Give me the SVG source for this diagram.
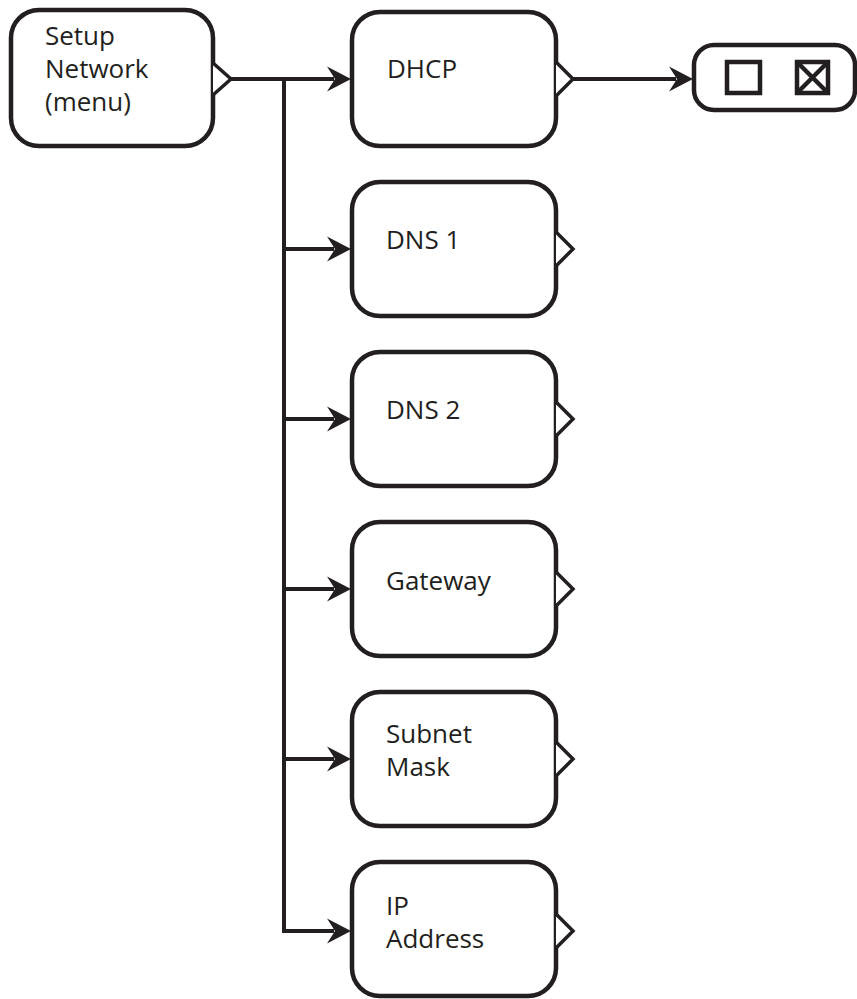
<svg xmlns="http://www.w3.org/2000/svg" width="857" height="999" viewBox="0 0 857 999">
<defs>
<style>
.box{fill:#fff;stroke:#231f20;stroke-width:4.5;}
.tri{fill:#fff;stroke:#231f20;stroke-width:3.5;stroke-linejoin:miter;}
.ln{fill:none;stroke:#231f20;stroke-width:4;}
.lbl{font-family:"Open Sans","Noto Sans",sans-serif;font-size:26px;fill:#231f20;}
.ah{fill:#231f20;}
.chk{fill:none;stroke:#231f20;stroke-width:4.5;}
</style>
<path id="arrow" class="ah" d="M0,0 L-24,-12.5 L-16,0 L-24,12.5 Z"/>
</defs>
<rect width="857" height="999" fill="#fff"/>
<g id="connectors">
<path class="ln" d="M231,79 H334"/>
<path class="ln" d="M284,79 V931 H334"/>
<path class="ln" d="M284,249 H334"/>
<path class="ln" d="M284,419 H334"/>
<path class="ln" d="M284,589 H334"/>
<path class="ln" d="M284,759 H334"/>
<path class="ln" d="M573,79 H676"/>
<use href="#arrow" x="351" y="79"/>
<use href="#arrow" x="351" y="249"/>
<use href="#arrow" x="351" y="419"/>
<use href="#arrow" x="351" y="589"/>
<use href="#arrow" x="351" y="759"/>
<use href="#arrow" x="351" y="931"/>
<use href="#arrow" x="693" y="79"/>
</g>
<g id="setup">
<rect class="box" x="11" y="10" width="202" height="136" rx="28"/>
<path class="tri" d="M213,63 L231,79 L213,95"/>
<text class="lbl" x="45" y="45">Setup</text>
<text class="lbl" x="45" y="78">Network</text>
<text class="lbl" x="45" y="111">(menu)</text>
</g>
<g id="dhcp">
<rect class="box" x="352" y="12" width="204" height="134" rx="28"/>
<path class="tri" d="M556,62 L573,79 L556,96"/>
<text class="lbl" x="387" y="78">DHCP</text>
</g>
<g id="toggle">
<rect class="box" x="694" y="45" width="161" height="65" rx="20"/>
<rect class="chk" x="727" y="62" width="33" height="31"/>
<rect class="chk" x="797" y="62" width="31" height="31"/>
<path class="chk" d="M797,62 L828,93 M828,62 L797,93" stroke-width="3"/>
</g>
<g id="dns1">
<rect class="box" x="352" y="182" width="204" height="134" rx="28"/>
<path class="tri" d="M556,232 L573,249 L556,266"/>
<text class="lbl" x="386" y="249">DNS 1</text>
</g>
<g id="dns2">
<rect class="box" x="352" y="352" width="204" height="134" rx="28"/>
<path class="tri" d="M556,402 L573,419 L556,436"/>
<text class="lbl" x="386" y="419">DNS 2</text>
</g>
<g id="gateway">
<rect class="box" x="352" y="522" width="204" height="134" rx="28"/>
<path class="tri" d="M556,572 L573,589 L556,606"/>
<text class="lbl" x="386" y="590">Gateway</text>
</g>
<g id="subnet">
<rect class="box" x="352" y="692" width="204" height="134" rx="28"/>
<path class="tri" d="M556,742 L573,759 L556,776"/>
<text class="lbl" x="386" y="743">Subnet</text>
<text class="lbl" x="386" y="776">Mask</text>
</g>
<g id="ip">
<rect class="box" x="352" y="862" width="204" height="134" rx="28"/>
<path class="tri" d="M556,914 L573,931 L556,948"/>
<text class="lbl" x="386" y="915">IP</text>
<text class="lbl" x="386" y="948">Address</text>
</g>
</svg>
